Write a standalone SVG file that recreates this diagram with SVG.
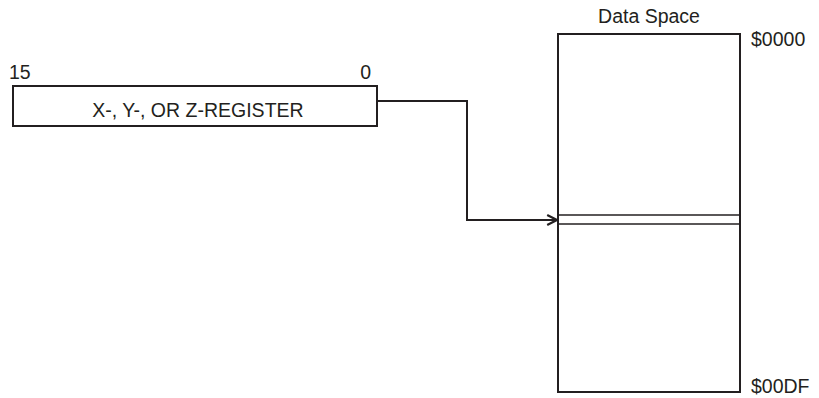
<svg xmlns="http://www.w3.org/2000/svg" width="819" height="398" viewBox="0 0 819 398">
<style>
.box{fill:#fff;stroke:#231f20;stroke-width:2}
.thin{stroke:#231f20;stroke-width:1.5;fill:none}
.conn{fill:none;stroke:#231f20;stroke-width:2}
text{font-family:"Liberation Sans",Arial,sans-serif;font-size:19.5px;fill:#231f20}
</style>
<defs>
<marker id="arr" viewBox="0 0 10 10" refX="9" refY="5" markerWidth="14" markerHeight="14" markerUnits="userSpaceOnUse" orient="auto">
<path d="M2,1.5 L9,5 L2,8.5" fill="none" stroke="#231f20" stroke-width="1.6"/>
</marker>
</defs>
<g id="register">
<rect class="box" x="13" y="86" width="364" height="40"/>
<text x="198" y="117" text-anchor="middle">X-, Y-, OR Z-REGISTER</text>
<text x="9" y="79">15</text>
<text x="371" y="79" text-anchor="end">0</text>
</g>
<g id="dataspace">
<rect class="box" x="558" y="34" width="182" height="358"/>
<line class="thin" x1="558" y1="215" x2="740" y2="215"/>
<line class="thin" x1="558" y1="224" x2="740" y2="224"/>
<text x="649" y="23" text-anchor="middle">Data Space</text>
<text x="751" y="46">$0000</text>
<text x="751" y="393">$00DF</text>
</g>
<g id="connectors">
<path class="conn" d="M377,101 H467 V220 H557" marker-end="url(#arr)"/>
</g>
</svg>
